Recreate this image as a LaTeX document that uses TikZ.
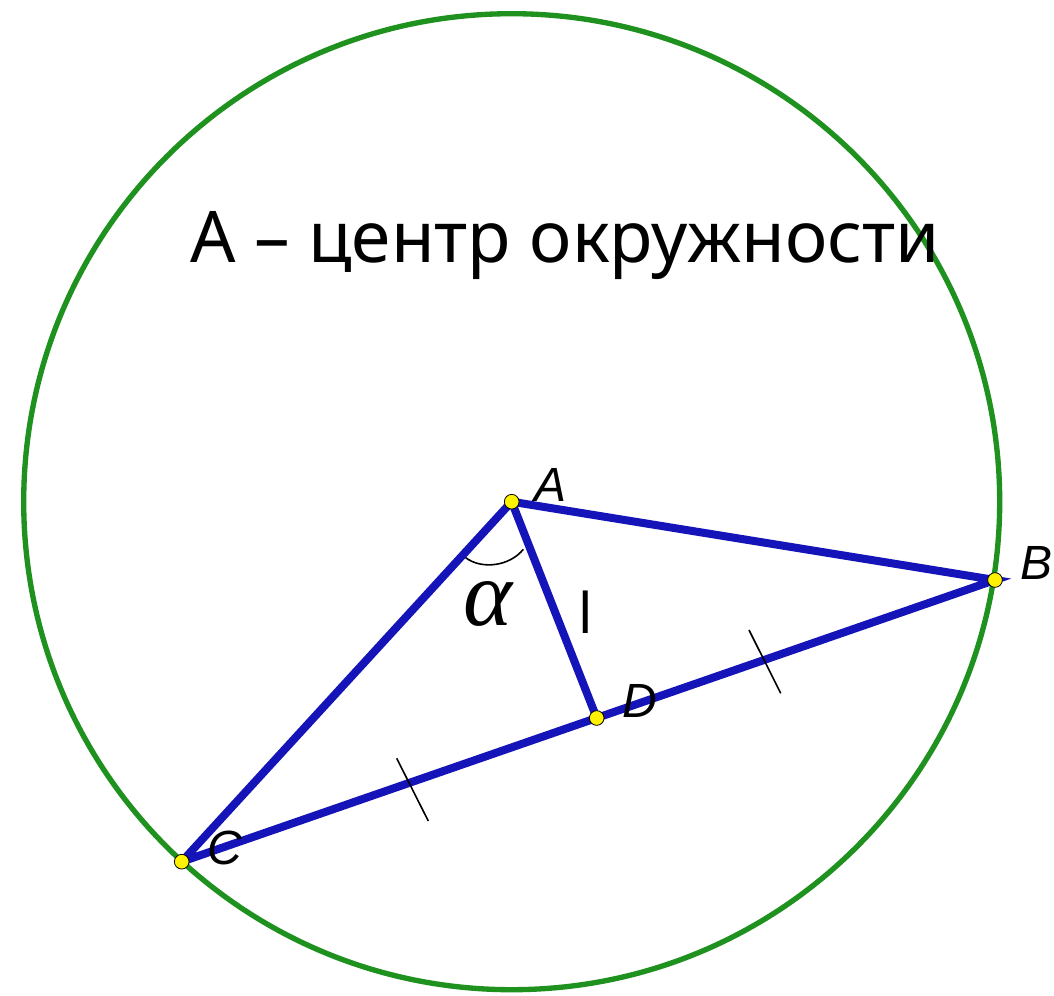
\documentclass[tikz,border=0pt]{standalone}
\usepackage{fontspec}
\setmainfont{Noto Sans}
\newfontfamily\lblfont{Liberation Sans}
\newfontfamily\grkfont{Liberation Serif}
\begin{document}
\begin{tikzpicture}[x=0.75pt,y=-0.75pt,
  seg/.style={draw=blueline,line width=6pt,line cap=round},
  circ/.style={draw=greenline,line width=4pt},
  pt/.style={circle,fill=yellow,draw=black,line width=0.6pt,inner sep=0pt,minimum size=11pt},
  lbl/.style={font=\lblfont\itshape\fontsize{36}{36}\selectfont,inner sep=0pt},
  tick/.style={draw=black,line width=1.2pt}]
\definecolor{blueline}{RGB}{20,20,185}
\definecolor{greenline}{RGB}{30,145,30}
\useasboundingbox (0,0) rectangle (1054,996);
\fill[white] (0,0) rectangle (1054,996);
\coordinate (A) at (511.7,501.7);
\coordinate (B) at (995,580);
\coordinate (C) at (181.7,861.7);
\coordinate (D) at (596.7,718);
\draw[circ] (A) circle[radius=488*0.75pt];
\node[font=\fontsize{53.4}{53.4}\selectfont,anchor=base west,inner sep=0pt] (title) at (190,262) {А – центр окружности};
\draw[seg] (C) -- (A) -- (B) -- (C);
\draw[seg] (A) -- (D);
\coordinate (t1a) at (396.7,758.3); \coordinate (t1b) at (428.3,821);
\coordinate (t2a) at (749,630); \coordinate (t2b) at (780.7,693.3);
\draw[tick] (t1a) -- (t1b);
\draw[tick] (t2a) -- (t2b);
\coordinate (arc1) at (465.7,557.7); \coordinate (arc2) at (523.3,549.3);
\draw[black,line width=1.2pt] (arc1) .. controls (482,570) and (510,566) .. (arc2);
\node[inner sep=0pt,anchor=base,font=\grkfont\itshape\fontsize{70}{70}\selectfont] (alpha) at (488,625) {α};
\node[inner sep=0pt,font=\fontsize{42}{42}\selectfont] (l) at (586,612) {l};
\node[pt] (pA) at (A) {};
\node[pt] (pB) at (B) {};
\node[pt] (pC) at (C) {};
\node[pt] (pD) at (D) {};
\node[lbl] (lA) at (551,485) {A};
\node[lbl] (lB) at (1036,563) {B};
\node[lbl] (lC) at (225,848) {C};
\node[lbl] (lD) at (640,701) {D};
\end{tikzpicture}
\end{document}
